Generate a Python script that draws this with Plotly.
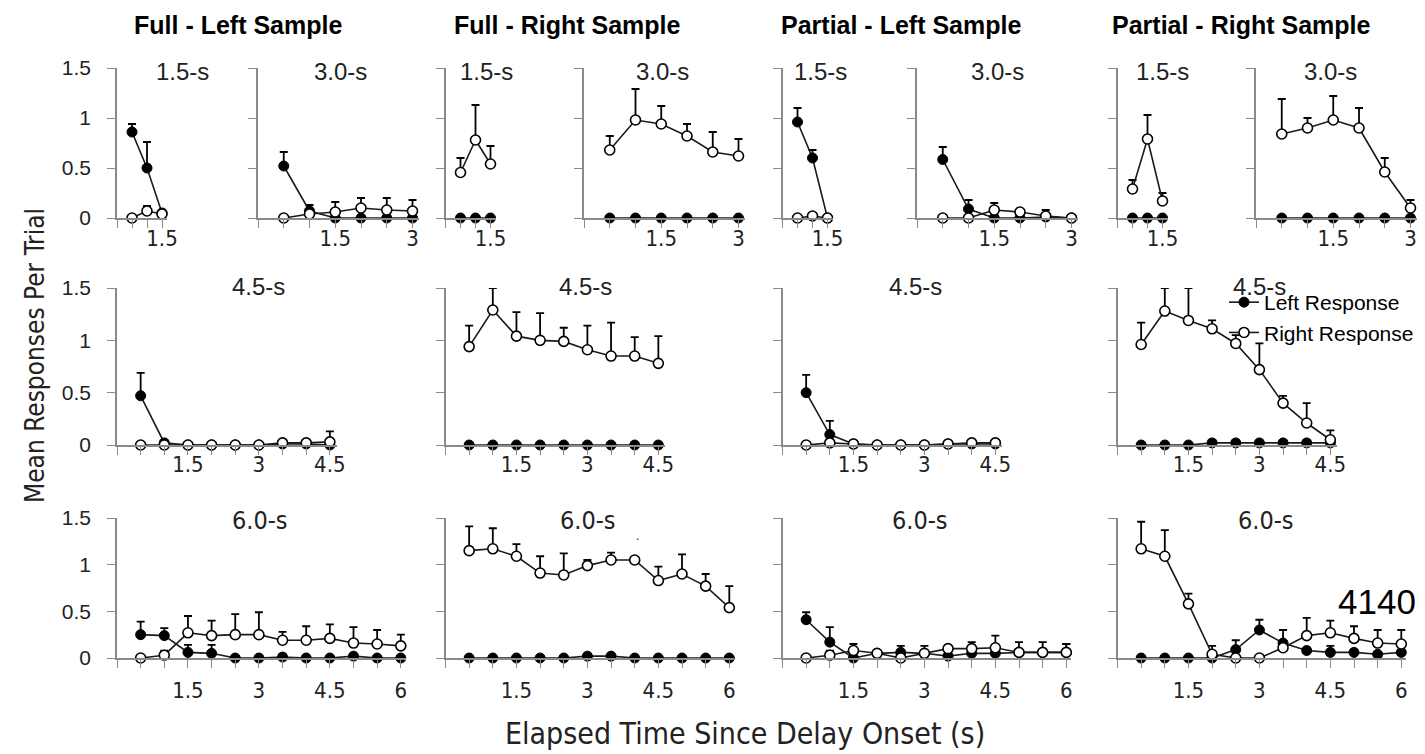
import plotly.graph_objects as go

W, H = 1425, 754

# ---------------- data ----------------
X15 = [0.5, 1.0, 1.5]
X30 = [0.5, 1.0, 1.5, 2.0, 2.5, 3.0]
X45 = [0.5, 1.0, 1.5, 2.0, 2.5, 3.0, 3.5, 4.0, 4.5]
X60 = [0.5, 1.0, 1.5, 2.0, 2.5, 3.0, 3.5, 4.0, 4.5, 5.0, 5.5, 6.0]

COLUMNS = ["Full - Left Sample", "Full - Right Sample", "Partial - Left Sample", "Partial - Right Sample"]
DELAYS = ["1.5-s", "3.0-s", "4.5-s", "6.0-s"]
X_TICK_LABELS = ["1.5", "3", "4.5", "6"]
Y_TICK_LABELS = ["0", "0.5", "1", "1.5"]

# Full - Left sample
FL15_left = [0.86, 0.50, 0.05];  FL15_left_err = [0.08, 0.26, 0.03]
FL15_right = [0.00, 0.07, 0.04]; FL15_right_err = [0.00, 0.05, 0.03]
FL30_left = [0.52, 0.07, 0.0, 0.0, 0.0, 0.0];    FL30_left_err = [0.14, 0.06, 0, 0, 0, 0]
FL30_right = [0.0, 0.04, 0.06, 0.10, 0.08, 0.07]; FL30_right_err = [0, 0.05, 0.10, 0.10, 0.12, 0.11]
FL45_left = [0.47, 0.02, 0, 0, 0, 0, 0.01, 0.01, 0.0]; FL45_left_err = [0.22, 0, 0, 0, 0, 0, 0.02, 0.02, 0]
FL45_right = [0, 0, 0, 0, 0, 0, 0.02, 0.02, 0.03];     FL45_right_err = [0, 0, 0, 0, 0, 0, 0.02, 0.02, 0.10]
FL60_left = [0.25, 0.24, 0.06, 0.05, 0, 0, 0.01, 0, 0, 0.02, 0, 0]
FL60_left_err = [0.14, 0.08, 0.08, 0.09, 0, 0, 0.03, 0, 0, 0.02, 0, 0]
FL60_right = [0, 0.03, 0.27, 0.24, 0.25, 0.25, 0.19, 0.19, 0.21, 0.16, 0.15, 0.13]
FL60_right_err = [0, 0.05, 0.18, 0.16, 0.22, 0.24, 0.09, 0.15, 0.15, 0.17, 0.15, 0.12]

# Full - Right sample
FR15_left = [0, 0, 0];                FR15_left_err = [0, 0, 0]
FR15_right = [0.455, 0.78, 0.54];     FR15_right_err = [0.145, 0.35, 0.18]
FR30_left = [0, 0, 0, 0, 0, 0];       FR30_left_err = [0, 0, 0, 0, 0, 0]
FR30_right = [0.68, 0.98, 0.94, 0.82, 0.66, 0.62]; FR30_right_err = [0.14, 0.31, 0.18, 0.12, 0.20, 0.17]
FR45_left = [0, 0, 0, 0, 0, 0, 0, 0, 0]; FR45_left_err = [0, 0, 0, 0, 0, 0, 0, 0, 0]
FR45_right = [0.94, 1.29, 1.04, 1.00, 0.99, 0.91, 0.85, 0.85, 0.78]
FR45_right_err = [0.20, 0.21, 0.23, 0.26, 0.13, 0.23, 0.32, 0.18, 0.26]
FR60_left = [0, 0, 0, 0, 0, 0.02, 0.02, 0, 0, 0, 0, 0]
FR60_left_err = [0, 0, 0, 0, 0, 0.02, 0.02, 0, 0, 0, 0, 0]
FR60_right = [1.15, 1.17, 1.09, 0.91, 0.89, 0.99, 1.05, 1.05, 0.83, 0.90, 0.77, 0.54]
FR60_right_err = [0.26, 0.22, 0.13, 0.18, 0.23, 0.06, 0.08, 0.03, 0.15, 0.21, 0.13, 0.23]

# Partial - Left sample
PL15_left = [0.96, 0.60, 0.0];  PL15_left_err = [0.14, 0.08, 0]
PL15_right = [0, 0.02, 0];      PL15_right_err = [0, 0, 0]
PL30_left = [0.585, 0.09, 0, 0, 0.01, 0]; PL30_left_err = [0.125, 0.09, 0, 0, 0, 0]
PL30_right = [0, 0, 0.08, 0.06, 0.02, 0]; PL30_right_err = [0, 0, 0.07, 0.03, 0.06, 0]
PL45_left = [0.50, 0.10, 0.01, 0, 0, 0, 0.01, 0.01, 0.01]; PL45_left_err = [0.17, 0.13, 0, 0, 0, 0, 0, 0, 0]
PL45_right = [0, 0.02, 0.01, 0, 0, 0, 0.01, 0.02, 0.02];   PL45_right_err = [0, 0, 0, 0, 0, 0, 0, 0, 0]
PL60_left = [0.41, 0.17, 0.0, 0.05, 0.06, 0.05, 0.02, 0.05, 0.05, 0.06, 0.06, 0.06]
PL60_left_err = [0.08, 0.16, 0, 0, 0.07, 0, 0, 0.03, 0.03, 0.03, 0.03, 0.09]
PL60_right = [0, 0.03, 0.08, 0.05, 0, 0.05, 0.10, 0.10, 0.11, 0.06, 0.06, 0.06]
PL60_right_err = [0, 0.05, 0.07, 0.03, 0, 0.08, 0.02, 0.07, 0.13, 0.11, 0.11, 0.09]

# Partial - Right sample
PR15_left = [0, 0, 0];             PR15_left_err = [0, 0, 0]
PR15_right = [0.29, 0.79, 0.17];   PR15_right_err = [0.09, 0.24, 0.08]
PR30_left = [0, 0, 0, 0, 0, 0];    PR30_left_err = [0, 0, 0, 0, 0, 0]
PR30_right = [0.84, 0.90, 0.98, 0.90, 0.46, 0.10]; PR30_right_err = [0.35, 0.10, 0.24, 0.20, 0.14, 0.08]
PR45_left = [0, 0, 0, 0.02, 0.02, 0.02, 0.02, 0.02, 0.02]; PR45_left_err = [0, 0, 0, 0, 0, 0, 0, 0, 0]
PR45_right = [0.96, 1.28, 1.19, 1.11, 0.97, 0.72, 0.40, 0.21, 0.05]
PR45_right_err = [0.21, 0.22, 0.31, 0.08, 0.08, 0.25, 0.07, 0.19, 0.09]
PR60_left = [0, 0, 0, 0, 0.09, 0.30, 0.16, 0.08, 0.06, 0.06, 0.04, 0.06]
PR60_left_err = [0, 0, 0, 0, 0.10, 0.11, 0.14, 0.03, 0.07, 0.03, 0.02, 0.02]
PR60_right = [1.17, 1.09, 0.58, 0.04, 0, 0, 0.11, 0.24, 0.27, 0.21, 0.16, 0.15]
PR60_right_err = [0.29, 0.28, 0.11, 0.09, 0, 0, 0.05, 0.19, 0.13, 0.13, 0.14, 0.15]

SUBJECT = "4140"

# ---------------- geometry (pixels) ----------------
COL_X0 = [117, 445.5, 782.5, 1117.5]      # x=0 of 1.5/4.5/6.0 panels
COL_X0_B = [258, 584, 917, 1256]          # x=0 of 3.0 panels
SLOPE = {"1.5-s": 30, "3.0-s": 51.5, "4.5-s": 47.3, "6.0-s": 47.3}
XMAX = {"1.5-s": 1.67, "3.0-s": 3.12, "4.5-s": 4.65, "6.0-s": 6.1}
ROW_Y = {"1.5-s": (68, 218), "3.0-s": (68, 218), "4.5-s": (288, 445), "6.0-s": (518, 658)}
XSTANDOFF = {"1.5-s": -8, "3.0-s": -8, "4.5-s": -9, "6.0-s": 4}
TITLE_POS = [
    {"1.5-s": (183, 72), "3.0-s": (340, 72), "4.5-s": (258, 286), "6.0-s": (260, 520)},
    {"1.5-s": (487, 72), "3.0-s": (662, 72), "4.5-s": (585, 286), "6.0-s": (588, 520)},
    {"1.5-s": (820, 72), "3.0-s": (997, 72), "4.5-s": (916, 286), "6.0-s": (920, 520)},
    {"1.5-s": (1162, 72), "3.0-s": (1330, 72), "4.5-s": (1259, 286), "6.0-s": (1266, 520)},
]
HEADER_X = [238, 567, 901, 1241]

XS = {"1.5-s": X15, "3.0-s": X30, "4.5-s": X45, "6.0-s": X60}
DATA = [
    {"1.5-s": (FL15_left, FL15_left_err, FL15_right, FL15_right_err),
     "3.0-s": (FL30_left, FL30_left_err, FL30_right, FL30_right_err),
     "4.5-s": (FL45_left, FL45_left_err, FL45_right, FL45_right_err),
     "6.0-s": (FL60_left, FL60_left_err, FL60_right, FL60_right_err)},
    {"1.5-s": (FR15_left, FR15_left_err, FR15_right, FR15_right_err),
     "3.0-s": (FR30_left, FR30_left_err, FR30_right, FR30_right_err),
     "4.5-s": (FR45_left, FR45_left_err, FR45_right, FR45_right_err),
     "6.0-s": (FR60_left, FR60_left_err, FR60_right, FR60_right_err)},
    {"1.5-s": (PL15_left, PL15_left_err, PL15_right, PL15_right_err),
     "3.0-s": (PL30_left, PL30_left_err, PL30_right, PL30_right_err),
     "4.5-s": (PL45_left, PL45_left_err, PL45_right, PL45_right_err),
     "6.0-s": (PL60_left, PL60_left_err, PL60_right, PL60_right_err)},
    {"1.5-s": (PR15_left, PR15_left_err, PR15_right, PR15_right_err),
     "3.0-s": (PR30_left, PR30_left_err, PR30_right, PR30_right_err),
     "4.5-s": (PR45_left, PR45_left_err, PR45_right, PR45_right_err),
     "6.0-s": (PR60_left, PR60_left_err, PR60_right, PR60_right_err)},
]

FONT = "Liberation Sans, Arial, sans-serif"
NARROW = "Liberation Sans Narrow, Arial Narrow, DejaVu Sans Condensed, sans-serif"
AX_COLOR = "#8a8a8a"
INK = "#1a1a1a"

fig = go.Figure()
layout = dict(
    template="none",
    width=W, height=H, margin=dict(l=0, r=0, t=0, b=0, pad=0, autoexpand=False),
    paper_bgcolor="white", plot_bgcolor="rgba(0,0,0,0)",
    showlegend=True,
    legend=dict(x=1224 / W, y=1 - 282 / H, xanchor="left", yanchor="top",
                bgcolor="rgba(0,0,0,0)", font=dict(family=FONT, size=21, color="black"),
                tracegroupgap=0, itemwidth=30),
)
annotations = []

idx = 0
for c in range(4):
    for d in DELAYS:
        idx += 1
        xa = "x" if idx == 1 else f"x{idx}"
        ya = "y" if idx == 1 else f"y{idx}"
        x0 = COL_X0_B[c] if d == "3.0-s" else COL_X0[c]
        x1 = x0 + XMAX[d] * SLOPE[d]
        ytop, ybot = ROW_Y[d]
        xs = XS[d]
        nt = int(round(max(xs) / 0.5))
        tv = [i * 0.5 for i in range(nt + 1)]
        tt = [X_TICK_LABELS[int(round(v / 1.5)) - 1] if (v > 0 and abs(v / 1.5 - round(v / 1.5)) < 1e-9) else "" for v in tv]
        show_y = (c == 0 and d != "3.0-s")
        layout["xaxis" if idx == 1 else f"xaxis{idx}"] = dict(
            domain=[x0 / W, x1 / W], range=[0, XMAX[d]], anchor=ya, automargin=False,
            showline=True, linecolor=AX_COLOR, linewidth=1.6,
            ticks="outside", ticklen=8, tickwidth=1.3, tickcolor=AX_COLOR,
            tickvals=tv, ticktext=tt, showgrid=False, zeroline=False,
            ticklabelstandoff=XSTANDOFF[d],
            tickfont=dict(family=NARROW, size=22, color="#222"),
        )
        layout["yaxis" if idx == 1 else f"yaxis{idx}"] = dict(
            domain=[1 - ybot / H, 1 - ytop / H], range=[0, 1.5], anchor=xa, automargin=False,
            showline=True, linecolor=AX_COLOR, linewidth=1.6,
            ticks="outside", ticklen=8, tickwidth=1.3, tickcolor=AX_COLOR,
            tickvals=[0, 0.5, 1, 1.5],
            ticktext=Y_TICK_LABELS if show_y else ["", "", "", ""],
            ticklabelstandoff=12,
            showgrid=False, zeroline=False,
            tickfont=dict(family=FONT, size=21, color="#222"),
        )
        left, left_err, right, right_err = DATA[c][d]
        first = (idx == 1)
        fig.add_trace(go.Scatter(
            x=xs, y=left, xaxis=xa, yaxis=ya, mode="lines+markers",
            name="Left Response", legendgroup="L", showlegend=first,
            line=dict(color=INK, width=1.6),
            marker=dict(symbol="circle", size=10, color="black", line=dict(color="black", width=1)),
            error_y=dict(type="data", array=left_err, arrayminus=[0] * len(xs), symmetric=False,
                         color="black", thickness=1.8, width=4),
            cliponaxis=False,
        ))
        fig.add_trace(go.Scatter(
            x=xs, y=right, xaxis=xa, yaxis=ya, mode="lines+markers",
            name="Right Response", legendgroup="R", showlegend=first,
            line=dict(color=INK, width=1.6),
            marker=dict(symbol="circle", size=10, color="white", line=dict(color="black", width=1.6)),
            error_y=dict(type="data", array=right_err, arrayminus=[0] * len(xs), symmetric=False,
                         color="black", thickness=1.8, width=4),
            cliponaxis=False,
        ))
        tx, ty = TITLE_POS[c][d]
        annotations.append(dict(
            text=d, x=tx / W, y=1 - ty / H, xref="paper", yref="paper",
            xanchor="center", yanchor="middle", showarrow=False,
            font=dict(family=NARROW if d == "6.0-s" else FONT, size=25 if d == "6.0-s" else 24, color="#222"),
        ))

for c, name in enumerate(COLUMNS):
    annotations.append(dict(
        text=f"<b>{name}</b>", x=HEADER_X[c] / W, y=1 - 25 / H, xref="paper", yref="paper",
        xanchor="center", yanchor="middle", showarrow=False,
        font=dict(family=FONT, size=25, color="black"),
    ))

annotations.append(dict(
    text="Mean Responses Per Trial", x=35 / W, y=1 - 356 / H, xref="paper", yref="paper",
    xanchor="center", yanchor="middle", textangle=-90, showarrow=False,
    font=dict(family=NARROW, size=26, color="#222"),
))
annotations.append(dict(
    text="Elapsed Time Since Delay Onset (s)", x=745 / W, y=1 - 733 / H, xref="paper", yref="paper",
    xanchor="center", yanchor="middle", showarrow=False,
    font=dict(family=NARROW, size=30, color="#222"),
))
annotations.append(dict(
    text=SUBJECT, x=1377 / W, y=1 - 601 / H, xref="paper", yref="paper",
    xanchor="center", yanchor="middle", showarrow=False,
    font=dict(family=FONT, size=35, color="black"),
))
# small stray dot visible in the reference above the Full-Right 6.0-s panel
annotations.append(dict(
    text=".", x=637 / W, y=1 - 536 / H, xref="paper", yref="paper",
    xanchor="center", yanchor="middle", showarrow=False,
    font=dict(family=FONT, size=12, color="black"),
))

layout["annotations"] = annotations
fig.update_layout(**layout)
fig.write_html("out.html",
               post_script="document.body.style.margin='0';document.body.style.overflow='hidden';")
